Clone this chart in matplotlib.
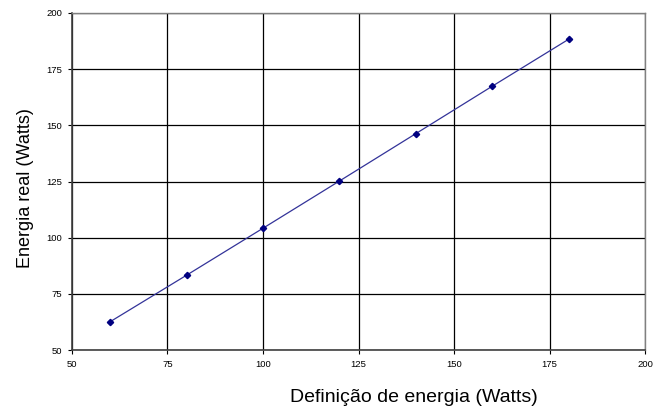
import matplotlib
matplotlib.use('Agg')
import matplotlib.pyplot as plt

plt.rcParams['font.family'] = ['Liberation Sans', 'DejaVu Sans']

# dados: definição de energia x energia real
definicao = [60, 80, 100, 120, 140, 160, 180]
energia_real = [62.6, 83.3, 104.2, 125.2, 146.3, 167.4, 188.3]
ticks = [50, 75, 100, 125, 150, 175, 200]

fig = plt.figure(figsize=(6.64, 4.08), dpi=100)
ax = fig.add_axes([72/664, 58/408, 573/664, 337/408])

ax.plot(definicao, energia_real, color='#333399', linewidth=0.9,
        marker='D', markersize=3.2, markerfacecolor='#000080', markeredgecolor='#000080')

ax.set_xlim(50, 200)
ax.set_ylim(50, 200)
ax.set_xticks(ticks)
ax.set_yticks(ticks)
ax.grid(True, color='black', linewidth=0.9)
ax.set_axisbelow(True)
ax.tick_params(labelsize=6.8, length=3, width=0.8, direction='out', colors='black', pad=4)
for side in ['top', 'right']:
    ax.spines[side].set_color('#808080')
    ax.spines[side].set_linewidth(1.0)
for side in ['left', 'bottom']:
    ax.spines[side].set_color('#404040')
    ax.spines[side].set_linewidth(1.2)

# rótulos dos eixos
fig.text(414/664, 1 - 397/408, 'Definição de energia (Watts)', fontsize=14,
         ha='center', va='center')
fig.text(25/664, 1 - 188/408, 'Energia real (Watts)', fontsize=13,
         ha='center', va='center', rotation=90)

fig.savefig('out.png', dpi=100)
